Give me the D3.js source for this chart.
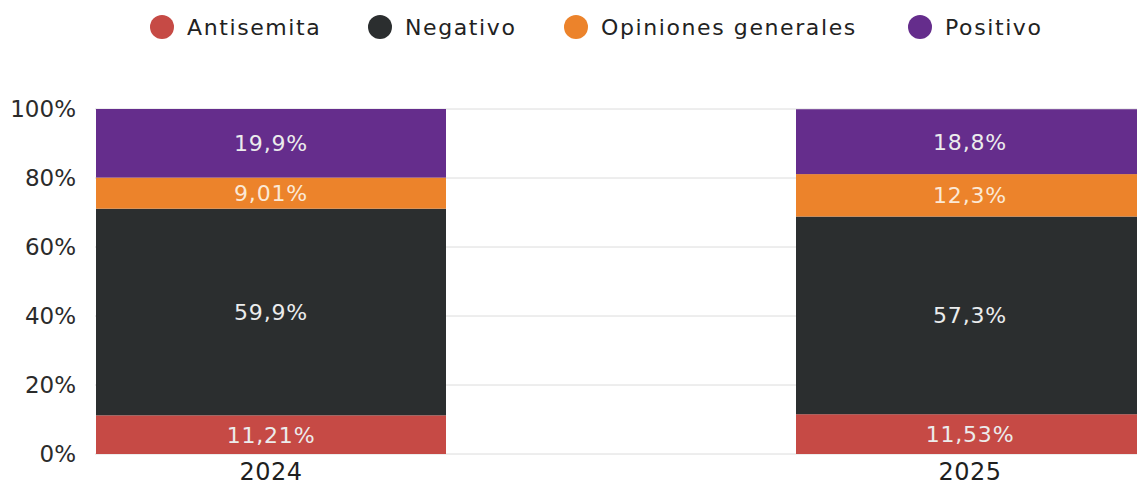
<!DOCTYPE html>
<html><head><meta charset="utf-8">
<script src="https://cdn.jsdelivr.net/npm/d3@7"></script>
<style>
html,body{margin:0;padding:0;background:#fff;}
svg{display:block;font-family:"DejaVu Sans",sans-serif;}
</style></head>
<body><svg id="c" width="1137" height="488"></svg>
<script>
const years = ["2024", "2025"];
const seriesNames = ["Antisemita", "Negativo", "Opiniones generales", "Positivo"];
const antisemita = [11.21, 11.53];
const negativo = [59.9, 57.3];
const opiniones = [9.01, 12.3];
const positivo = [19.9, 18.8];
const labelText = {
  "Antisemita": ["11,21%", "11,53%"],
  "Negativo": ["59,9%", "57,3%"],
  "Opiniones generales": ["9,01%", "12,3%"],
  "Positivo": ["19,9%", "18,8%"]
};
const yTicks = [0, 20, 40, 60, 80, 100];
const colors = ["#C64A45", "#2B2E2F", "#EC832B", "#652D8C"];

const rows = years.map((y, i) => ({
  year: y,
  "Antisemita": antisemita[i],
  "Negativo": negativo[i],
  "Opiniones generales": opiniones[i],
  "Positivo": positivo[i]
}));

const FONT = "DejaVu Sans, sans-serif";
const svg = d3.select("#c");
const W = 1137;
const y = d3.scaleLinear().domain([0, 100]).range([454, 109]);
const x = d3.scaleBand().domain(years).range([96, 1146]).paddingInner(0.5).paddingOuter(0);
const color = d3.scaleOrdinal().domain(seriesNames).range(colors);
const cx = d => Math.min(x(d) + x.bandwidth() / 2, 970);

// grid
svg.append("g").selectAll("line").data(yTicks).join("line")
  .attr("x1", 95).attr("x2", W)
  .attr("y1", d => y(d)).attr("y2", d => y(d))
  .attr("stroke", "#dcdcdc").attr("stroke-width", 1);

// y axis labels
const yAxis = d3.axisLeft(y).tickValues(yTicks).tickFormat(d => d + "%").tickSize(0).tickPadding(0);
const ya = svg.append("g").attr("transform", "translate(76,0)").call(yAxis);
ya.select(".domain").remove();
ya.selectAll("text").attr("font-size", 23).attr("fill", "#2b2b2b").attr("font-family", FONT);

// stack
const stack = d3.stack().keys(seriesNames)(rows);
const g = svg.append("g");
stack.forEach(layer => {
  g.append("g").attr("fill", color(layer.key)).selectAll("rect").data(layer).join("rect")
    .attr("x", d => x(d.data.year))
    .attr("width", x.bandwidth())
    .attr("y", d => y(Math.min(d[1], 100)))
    .attr("height", d => y(d[0]) - y(Math.min(d[1], 100)));
  g.append("g").selectAll("text").data(layer).join("text")
    .attr("x", d => cx(d.data.year))
    .attr("y", d => (y(d[0]) + y(Math.min(d[1], 100))) / 2)
    .attr("dy", "0.36em")
    .attr("text-anchor", "middle")
    .attr("font-size", 22)
    .attr("font-family", FONT)
    .attr("letter-spacing", 0.8)
    .attr("fill", layer.key === "Opiniones generales" ? "#fbe9d6" : "#ececec")
    .text((d, i) => labelText[layer.key][i]);
});

// x labels
const xa = svg.append("g").attr("transform", "translate(0,454)")
  .call(d3.axisBottom(x).tickSize(0).tickPadding(9));
xa.select(".domain").remove();
xa.selectAll(".tick").attr("transform", d => `translate(${cx(d)},0)`);
xa.selectAll("text").attr("font-size", 24).attr("fill", "#1f1f1f").attr("font-family", FONT)
  .attr("letter-spacing", 0.5).attr("dy", "0.71em");

// legend
const legX = [162, 380, 576, 920];
const leg = svg.append("g").selectAll("g").data(seriesNames).join("g")
  .attr("transform", (d, i) => `translate(${legX[i]},27)`);
leg.append("circle").attr("r", 12).attr("fill", d => color(d));
leg.append("text").attr("x", 25).attr("dy", "0.36em").attr("font-size", 22).attr("font-family", FONT)
  .attr("letter-spacing", 1.6).attr("fill", "#222").text(d => d);
</script></body></html>
